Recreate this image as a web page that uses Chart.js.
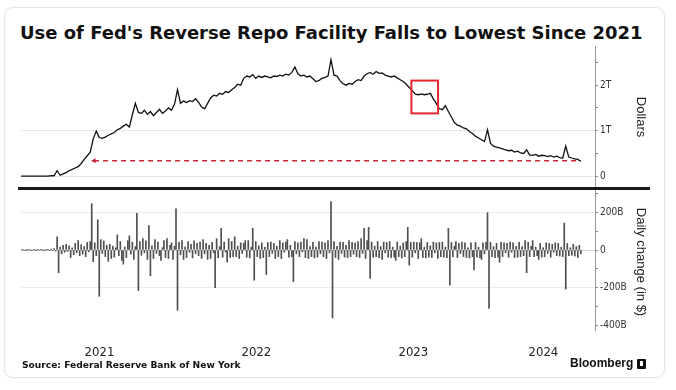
<!DOCTYPE html>
<html><head><meta charset="utf-8">
<script src="https://cdn.jsdelivr.net/npm/chart.js@4.4.1/dist/chart.umd.min.js"></script>
<style>
html,body{margin:0;padding:0;background:#fff;}
#wrap{position:relative;width:676px;height:390px;overflow:hidden;background:#fff;font-family:'Liberation Sans',Arial,sans-serif;color:#222;}
#card{position:absolute;left:4px;top:7px;width:659px;height:369px;border:1px solid #e4e4e4;border-radius:9px;box-shadow:0 0 3px rgba(0,0,0,0.06);}
.txt{position:absolute;white-space:nowrap;}
#title{left:20px;top:24px;font-family:'DejaVu Sans',Verdana,sans-serif;font-weight:bold;font-size:18px;line-height:18px;color:#111;}
canvas{position:absolute;left:0;}
#cTop{top:42px;}
#cBot{top:186px;}
#sep{position:absolute;left:18px;top:187px;width:632px;height:3px;background:#1a1a1a;}
.ytitle{position:absolute;font-size:13px;line-height:14px;transform:translate(-50%,-50%) rotate(90deg);white-space:nowrap;color:#222;}
#source{left:22px;top:359px;font-family:'DejaVu Sans',Verdana,sans-serif;font-weight:bold;font-size:9px;line-height:12px;color:#111;}
#brand{left:570px;top:356px;font-weight:bold;font-size:12px;line-height:14px;color:#111;}
#logo{position:absolute;left:637px;top:359px;width:9px;height:10px;background:#111;border-radius:1px;}
#logo i{position:absolute;left:3px;top:2px;width:3px;height:5px;background:#fff;}
</style></head>
<body>
<div id="wrap">
  <div id="card"></div>
  <div id="title" class="txt">Use of Fed's Reverse Repo Facility Falls to Lowest Since 2021</div>
  <canvas id="cTop" width="676" height="148"></canvas>
  <canvas id="cBot" width="676" height="180"></canvas>
  <div id="sep"></div>
  <div class="ytitle" style="left:641px;top:117px;">Dollars</div>
  <div class="ytitle" style="left:641px;top:262px;">Daily change (in $)</div>
  <div id="source" class="txt">Source: Federal Reserve Bank of New York</div>
  <div id="brand" class="txt">Bloomberg</div>
  <div id="logo"><i></i></div>
</div>
<script>
// ---------- data ----------
const startDate = '2021-01-01';
const axisEndDays = 1335;
const levelStepDays = 7;      // weekly readings of the facility balance
const changeStepDays = 3.5;   // twice-weekly readings of the daily change

// Reverse repo facility usage, trillions of dollars
const rrpLevelT = [
  0,0,0,0,0,0,0,0,0,0,
  0.01,0.01,0.12,0.02,0.05,0.08,0.12,0.15,0.18,0.21,
  0.28,0.37,0.45,0.53,0.82,0.99,0.85,0.83,0.86,0.9,
  0.93,0.96,1.02,1.05,1.1,1.14,1.08,1.35,1.6,1.4,
  1.38,1.45,1.36,1.42,1.33,1.4,1.47,1.38,1.43,1.5,
  1.45,1.58,1.9,1.6,1.65,1.62,1.66,1.64,1.7,1.62,
  1.52,1.48,1.6,1.72,1.78,1.76,1.82,1.8,1.86,1.84,
  1.9,1.95,2.02,2.0,2.15,2.2,2.18,2.23,2.15,2.2,
  2.17,2.2,2.18,2.16,2.2,2.19,2.22,2.2,2.24,2.22,
  2.28,2.4,2.25,2.2,2.22,2.18,2.2,2.14,2.08,2.1,
  2.15,2.17,2.2,2.56,2.22,2.2,2.1,2.03,2.0,2.04,
  2.02,2.08,2.12,2.1,2.2,2.25,2.28,2.24,2.3,2.26,
  2.27,2.22,2.2,2.18,2.2,2.16,2.12,2.08,2.02,1.95,
  1.88,1.8,1.79,1.81,1.79,1.8,1.82,1.7,1.6,1.48,
  1.46,1.55,1.42,1.3,1.18,1.12,1.1,1.06,1.04,0.98,
  0.94,0.88,0.84,0.8,0.76,1.02,0.72,0.66,0.64,0.62,
  0.6,0.58,0.56,0.57,0.53,0.55,0.51,0.5,0.58,0.47,
  0.46,0.48,0.44,0.46,0.45,0.43,0.45,0.42,0.44,0.41,
  0.4,0.66,0.42,0.4,0.38,0.37,0.33
];

// Daily change, billions of dollars
const dailyChangeB = [
  0,1,0,-1,1,0,2,-1,0,1,-2,1,0,2,-1,3,-2,1,4,-3,
  5,-4,8,-6,70,-120,15,-20,25,-12,30,-8,22,-40,12,-25,35,-15,50,-30,
  28,-22,18,-35,40,-10,45,245,-62,38,-30,160,-245,55,-18,48,-35,25,-60,30,
  -45,20,-38,12,80,-30,45,-55,-75,15,-40,50,75,-22,42,-50,18,195,-215,45,
  -28,60,-15,48,-50,130,-137,22,-45,55,-18,42,-30,-55,12,50,-40,60,-45,25,
  38,-50,20,218,-320,40,-25,50,-50,15,-40,45,-12,30,-42,48,-20,35,-30,42,
  -45,55,-20,35,-50,25,-45,40,-15,-200,60,-40,18,115,-38,42,-12,-65,60,-40,
  45,-35,70,-35,20,-45,38,-18,35,50,-38,50,-42,15,115,-160,45,-35,22,-45,
  38,-40,15,-130,40,-35,42,-18,35,-45,20,-35,50,-45,38,-12,42,55,-38,25,
  -35,-168,45,-20,38,-35,42,-10,60,-40,55,-45,18,-35,40,-42,15,-38,45,-20,
  42,-35,38,-45,50,-15,256,-360,45,-40,20,-50,42,-18,40,-38,25,-40,50,-35,
  40,-22,38,-35,45,-40,60,-18,115,-45,50,120,-150,42,-38,20,-35,45,-40,18,
  -50,42,-15,40,-38,45,-40,15,-38,-55,42,-35,20,-42,38,-35,45,120,-80,40,
  -38,42,-15,40,-45,38,60,-40,15,-42,40,-38,22,-40,42,-15,38,-45,40,-35,
  42,-38,15,-40,115,-187,40,-35,20,45,-40,35,-18,42,-35,38,-40,12,-42,38,
  -35,-105,40,-38,15,-40,-50,38,-20,42,198,-310,40,-35,18,-40,35,-38,-65,40,
  -35,38,-15,35,-38,42,-12,38,-40,20,-38,40,-35,18,-30,50,-120,40,-35,20,
  50,-35,15,-30,-50,35,-38,12,-35,38,-18,35,-38,30,-12,38,-30,35,-32,15,
  -35,143,-207,35,-30,12,-28,30,-32,18,-40,25,-20
];

const yearLabels = ['2021','2022','2023','2024'];
const topTickValues = [0, 0.5, 1, 1.5, 2, 2.5];
const topTickLabels = ['0', '', '1T', '', '2T', ''];
const topGridValues = [0, 1];
const bottomTickValues = [-400, -300, -200, -100, 0, 100, 200, 300];
const bottomTickLabels = ['-400B', '', '-200B', '', '0', '', '200B', ''];
const bottomGridValues = [-200, 0, 200];

const floorLevelT = 0.34;
const floorFromDate = '2021-06-20';
const highlight = {from: '2023-06-28', to: '2023-08-29', low: 1.38, high: 2.10};

// ---------- helpers ----------
const DAY = 86400000;
function dayOf(s){ return (Date.parse(s) - Date.parse(startDate)) / DAY; }
const yearCenters = yearLabels.map(y => {
  const a = Math.max(0, dayOf(y + '-01-01'));
  const b = Math.min(axisEndDays, dayOf((+y + 1) + '-01-01'));
  return (a + b) / 2;
});
const NARROW = "'Liberation Sans Narrow','DejaVu Sans Condensed','Liberation Sans',sans-serif";

function fitWidth(id, target){
  const el = document.getElementById(id);
  const w = el.getBoundingClientRect().width;
  const fs = parseFloat(getComputedStyle(el).fontSize);
  el.style.fontSize = (fs * target / w) + 'px';
}
fitWidth('title', 623);
fitWidth('source', 219);

function noPad(a){ a.paddingTop = 0; a.paddingBottom = 0; a.paddingLeft = 0; a.paddingRight = 0; }

const highlightPlugin = {
  id: 'hl',
  afterDatasetsDraw(chart){
    const xs = chart.scales.x, ys = chart.scales.y, ctx = chart.ctx;
    const x1 = xs.getPixelForValue(dayOf(highlight.from));
    const x2 = xs.getPixelForValue(dayOf(highlight.to));
    const y1 = ys.getPixelForValue(highlight.high);
    const y2 = ys.getPixelForValue(highlight.low);
    ctx.save();
    ctx.strokeStyle = '#e0282e';
    ctx.lineWidth = 2;
    ctx.strokeRect(x1, y1, x2 - x1, y2 - y1);
    ctx.restore();
  }
};

Chart.defaults.font.family = "'Liberation Sans', Arial, sans-serif";

// ---------- top panel ----------
new Chart(document.getElementById('cTop'), {
  type: 'line',
  data: {
    datasets: [
      {
        data: rrpLevelT.map((v, i) => ({x: i * levelStepDays, y: v})),
        borderColor: '#111', borderWidth: 1.3, pointRadius: 0, tension: 0, order: 1
      },
      {
        data: [
          {x: dayOf(floorFromDate), y: floorLevelT},
          {x: (rrpLevelT.length - 1) * levelStepDays, y: floorLevelT}
        ],
        borderColor: '#c8283c', borderWidth: 1.5, borderDash: [5, 4],
        pointStyle: 'triangle', pointRotation: -90,
        pointRadius: c => c.dataIndex === 0 ? 3 : 0,
        pointBackgroundColor: '#c8283c', pointBorderWidth: 0, order: 2
      }
    ]
  },
  options: {
    responsive: false, animation: false, devicePixelRatio: 1,
    layout: {padding: {left: 21, right: 0, top: 3, bottom: 2}},
    plugins: {legend: {display: false}, tooltip: {enabled: false}},
    scales: {
      x: {type: 'linear', min: 0, max: axisEndDays, display: false},
      y: {
        position: 'right', min: -0.215, max: 2.86,
        afterBuildTicks: a => { a.ticks = topTickValues.map(v => ({value: v})); },
        afterFit: a => { a.width = 81; noPad(a); },
        ticks: {callback: (v, i) => topTickLabels[i], font: {family: NARROW, size: 10}, color: '#333', padding: 2},
        grid: {
          color: c => (c.tick && topGridValues.includes(c.tick.value)) ? '#e6e6e6' : 'rgba(0,0,0,0)',
          tickColor: '#888', tickLength: 3, lineWidth: 1
        },
        border: {display: true, color: '#999', width: 1}
      }
    }
  },
  plugins: [highlightPlugin]
});

// ---------- bottom panel ----------
new Chart(document.getElementById('cBot'), {
  type: 'bar',
  data: {
    datasets: [{
      data: dailyChangeB.map((v, j) => ({x: j * changeStepDays, y: v})),
      backgroundColor: '#4f4f4f', barThickness: 1, borderWidth: 0
    }]
  },
  options: {
    responsive: false, animation: false, devicePixelRatio: 1,
    layout: {padding: {left: 21, right: 0, top: 4, bottom: 0}},
    plugins: {legend: {display: false}, tooltip: {enabled: false}},
    scales: {
      x: {
        type: 'linear', min: 0, max: axisEndDays, offset: false,
        afterBuildTicks: a => { a.ticks = yearCenters.map(v => ({value: v})); },
        afterFit: a => { a.height = 36; noPad(a); },
        ticks: {callback: (v, i) => yearLabels[i], autoSkip: false, maxRotation: 0, minRotation: 0,
                font: {family: NARROW, size: 13}, color: '#222', padding: 15},
        grid: {display: false, drawTicks: false, offset: false},
        border: {display: false}
      },
      y: {
        position: 'right', min: -424, max: 318,
        afterBuildTicks: a => { a.ticks = bottomTickValues.map(v => ({value: v})); },
        afterFit: a => { a.width = 81; noPad(a); },
        ticks: {callback: (v, i) => bottomTickLabels[i], font: {family: NARROW, size: 10}, color: '#333', padding: 2},
        grid: {
          color: c => !c.tick ? 'rgba(0,0,0,0)' : (c.tick.value === 0 ? '#cfcfcf' : (bottomGridValues.includes(c.tick.value) ? '#ececec' : 'rgba(0,0,0,0)')),
          tickColor: '#888', tickLength: 3, lineWidth: 1
        },
        border: {display: true, color: '#999', width: 1}
      }
    }
  }
});
</script>
</body></html>
